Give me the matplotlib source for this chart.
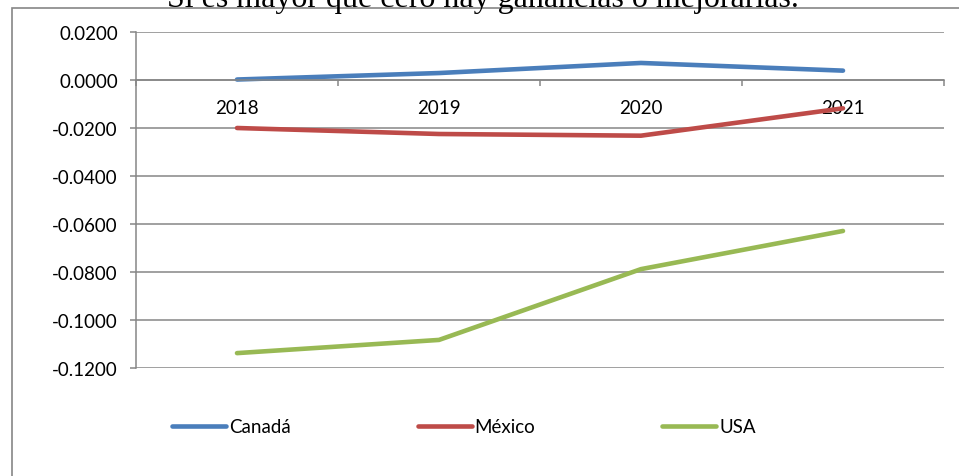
import numpy as np
import matplotlib.pyplot as plt
from matplotlib.patches import Rectangle
from matplotlib.ticker import FixedLocator

years = ["2018", "2019", "2020", "2021"]
canada = [0.0002, 0.0029, 0.0071, 0.0039]
mexico = [-0.0200, -0.0225, -0.0232, -0.0118]
usa = [-0.1138, -0.1083, -0.0788, -0.0629]
yticks = [0.02, 0.0, -0.02, -0.04, -0.06, -0.08, -0.10, -0.12]

plt.rcParams['font.family'] = ['Lato', 'DejaVu Sans']
grey = "#868686"

fig = plt.figure(figsize=(9.59, 4.77), dpi=100)
ax = fig.add_axes([136/959, 1-369/477, (944-136)/959, (369-33)/477])

x = np.arange(len(years))
ax.plot(x, canada, color="#4A7EBB", lw=3.3, solid_capstyle="round", label="Canadá")
ax.plot(x, mexico, color="#BE4B48", lw=3.3, solid_capstyle="round", label="México")
ax.plot(x, usa, color="#98B954", lw=3.3, solid_capstyle="round", label="USA")

ax.set_xlim(-0.5, 3.5)
ax.set_ylim(-0.12, 0.02)
ax.set_yticks(yticks)
ax.set_yticklabels(["{:.4f}".format(v) for v in yticks])
ax.yaxis.grid(True, color=grey, lw=1.1)
ax.set_axisbelow(True)

ax.set_xticks(x)
ax.set_xticklabels(years)
ax.xaxis.set_minor_locator(FixedLocator([-0.5, 0.5, 1.5, 2.5, 3.5]))
ax.tick_params(axis="x", which="major", length=0, pad=14, labelsize=13.5)
ax.tick_params(axis="x", which="minor", length=4, color=grey, width=1.1, direction="out")
ax.tick_params(axis="y", length=4, color=grey, width=1.1, pad=9, labelsize=13.5)

for s in ["top", "right"]:
    ax.spines[s].set_visible(False)
ax.spines["bottom"].set_position(("data", 0))
ax.spines["bottom"].set_color(grey)
ax.spines["bottom"].set_linewidth(1.1)
ax.spines["left"].set_color(grey)
ax.spines["left"].set_linewidth(1.1)

leg = fig.legend(loc="center left", bbox_to_anchor=(172/959, 1-428/477), ncol=3,
                 frameon=False, fontsize=13.5, handlelength=2.9, handletextpad=0.15,
                 columnspacing=6.75, borderaxespad=0, borderpad=0)

# outer chart frame (cropped)
fig.patches.append(Rectangle((12/959, -0.1), 1.2, 1 - 9/477 + 0.1, transform=fig.transFigure,
                             fill=False, edgecolor=grey, lw=1.2))

fig.text(483/959, 1 - 7/477, "Si es mayor que cero hay ganancias o mejorarías.",
         ha="center", va="baseline", fontsize=23, family="Liberation Serif")

fig.savefig("out.png", dpi=100)
